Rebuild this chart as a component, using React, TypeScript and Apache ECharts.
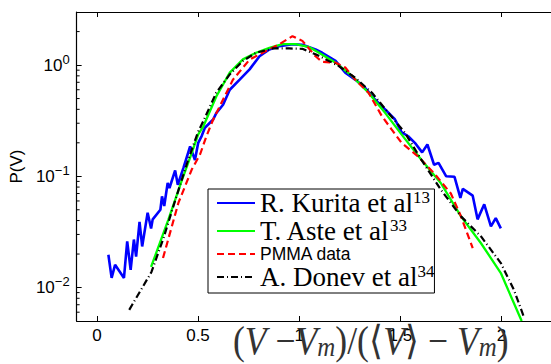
import React, { useEffect, useRef } from "react";
import * as echarts from "echarts";

// ---- data ----
const KURITA_X = [0.057, 0.073, 0.09, 0.134, 0.15, 0.167, 0.183, 0.194, 0.211, 0.224, 0.251, 0.268, 0.276, 0.314, 0.322, 0.333, 0.35, 0.359, 0.387, 0.4, 0.428, 0.461, 0.485, 0.501, 0.518, 0.534, 0.575, 0.591, 0.624, 0.657, 0.706, 0.755, 0.804, 0.853, 0.902, 0.967, 1.016, 1.081, 1.114, 1.18, 1.228, 1.277, 1.326, 1.375, 1.425, 1.474, 1.506, 1.539, 1.572, 1.608, 1.634, 1.667, 1.689, 1.727, 1.768, 1.797, 1.809, 1.858, 1.882, 1.915, 1.948, 1.972, 1.997];
const KURITA_Y = [0.0197, 0.0122, 0.016, 0.0122, 0.026, 0.0144, 0.027, 0.019, 0.039, 0.0234, 0.047, 0.034, 0.041, 0.05, 0.066, 0.054, 0.087, 0.0785, 0.113, 0.084, 0.119, 0.186, 0.14, 0.2, 0.23, 0.273, 0.324, 0.372, 0.44, 0.6, 0.74, 0.915, 1.2, 1.38, 1.48, 1.54, 1.52, 1.38, 1.29, 1.09, 0.855, 0.74, 0.625, 0.49, 0.4, 0.324, 0.25, 0.229, 0.2, 0.164, 0.193, 0.127, 0.132, 0.1, 0.099, 0.064, 0.077, 0.067, 0.041, 0.056, 0.0355, 0.042, 0.034];

const ASTE_X = [0.268, 0.354, 0.42, 0.469, 0.501, 0.526, 0.591, 0.657, 0.722, 0.787, 0.853, 0.918, 0.983, 1.049, 1.098, 1.18, 1.261, 1.343, 1.425, 1.506, 1.604, 1.7, 1.8, 1.899, 1.997, 2.1];
const ASTE_Y = [0.0153, 0.041, 0.092, 0.162, 0.238, 0.28, 0.525, 0.855, 1.125, 1.29, 1.43, 1.54, 1.54, 1.45, 1.29, 1.05, 0.8, 0.564, 0.372, 0.238, 0.141, 0.087, 0.0436, 0.025, 0.0135, 0.005];

const PMMA_X = [0.327, 0.403, 0.469, 0.51, 0.542, 0.575, 0.624, 0.673, 0.755, 0.836, 0.902, 0.967, 1.016, 1.081, 1.114, 1.18, 1.228, 1.277, 1.343, 1.408, 1.457, 1.506, 1.588, 1.67, 1.75, 1.8, 1.858];
const PMMA_Y = [0.0184, 0.0576, 0.115, 0.157, 0.23, 0.324, 0.49, 0.74, 1.12, 1.34, 1.54, 1.82, 1.65, 1.2, 1.07, 1.05, 0.95, 0.74, 0.564, 0.35, 0.264, 0.2, 0.151, 0.105, 0.07, 0.0436, 0.0226];

const DONEV_X = [0.16, 0.27, 0.33, 0.39, 0.45, 0.5, 0.53, 0.59, 0.657, 0.722, 0.787, 0.869, 0.951, 1.016, 1.081, 1.114, 1.196, 1.277, 1.36, 1.441, 1.523, 1.604, 1.7, 1.8, 1.899, 1.997, 2.062, 2.11];
const DONEV_Y = [0.0063, 0.0138, 0.028, 0.063, 0.138, 0.25, 0.324, 0.564, 0.824, 1.09, 1.29, 1.41, 1.41, 1.4, 1.25, 1.17, 0.98, 0.77, 0.564, 0.372, 0.246, 0.141, 0.076, 0.0436, 0.0288, 0.0166, 0.0095, 0.0055];

const SERIES_NAMES = ["R. Kurita et al", "T. Aste et al", "PMMA data", "A. Donev et al"];
const SERIES_REFS = ["13", "33", "", "34"];

const X_TICKS = [0, 0.5, 1, 1.5, 2];
const Y_MINOR_TICKS = [0.006, 0.007, 0.008, 0.009, 0.02, 0.03, 0.04, 0.05, 0.06, 0.07, 0.08, 0.09, 0.2, 0.3, 0.4, 0.5, 0.6, 0.7, 0.8, 0.9, 2];

const X_MIN = -0.1;
const X_MAX = 2.245;
const Y_MIN = 0.005;
const Y_MAX = 3;

const zip = (xs: number[], ys: number[]) => xs.map((x, i) => [x, ys[i]]);

export default function App() {
  const ref = useRef<HTMLDivElement>(null);
  useEffect(() => {
    if (!ref.current) return;
    const chart = echarts.init(ref.current, undefined, { renderer: "svg" });
    const sans = "'Liberation Sans', Arial, Helvetica, sans-serif";
    const serif = "'Liberation Serif', 'Times New Roman', serif";

    const lineSeries = (name: string, data: number[][], color: string, width: number, type: any) => ({
      type: "line",
      name,
      data,
      symbol: "none",
      showSymbol: false,
      xAxisIndex: 0,
      yAxisIndex: 0,
      lineStyle: { color, width, type },
      itemStyle: { color },
      emphasis: { disabled: true },
      z: 3,
    });

    chart.setOption({
      animation: false,
      backgroundColor: "#fff",
      grid: { left: 73, right: 0, top: 12, bottom: 43, containLabel: false },
      xAxis: [
        {
          type: "value",
          min: X_MIN,
          max: X_MAX,
          axisLine: { show: true, onZero: false, lineStyle: { color: "#000", width: 1.2 } },
          axisTick: { show: true, inside: true, length: 5, customValues: X_TICKS, lineStyle: { color: "#000" } },
          axisLabel: {
            customValues: X_TICKS,
            color: "#000",
            fontFamily: sans,
            fontSize: 17,
            margin: 6,
            formatter: (v: number) => String(v),
          },
          splitLine: { show: false },
        },
        {
          type: "value",
          position: "top",
          min: X_MIN,
          max: X_MAX,
          axisLine: { show: true, onZero: false, lineStyle: { color: "#000", width: 1.2 } },
          axisTick: { show: true, inside: true, length: 5, customValues: X_TICKS, lineStyle: { color: "#000" } },
          axisLabel: { show: false },
          splitLine: { show: false },
        },
      ],
      yAxis: [
        {
          type: "log",
          logBase: 10,
          min: Y_MIN,
          max: Y_MAX,
          name: "P(V)",
          nameLocation: "middle",
          nameRotate: 90,
          nameGap: 26,
          nameTextStyle: { color: "#000", fontFamily: sans, fontSize: 17 },
          axisLine: { show: true, onZero: false, lineStyle: { color: "#000", width: 1.2 } },
          axisTick: { show: true, inside: true, length: 5, lineStyle: { color: "#000" } },
          axisLabel: {
            color: "#000",
            margin: 7,
            showMinLabel: false,
            showMaxLabel: false,
            formatter: (v: number) => {
              const e = Math.log10(v);
              if (Math.abs(e - Math.round(e)) > 1e-6) return "";
              const r = Math.round(e);
              return "{a|10}{b|" + (r < 0 ? "\u2212" + Math.abs(r) : String(r)) + "}";
            },
            rich: {
              a: { fontFamily: sans, fontSize: 17, color: "#000", lineHeight: 20 },
              b: { fontFamily: sans, fontSize: 13, color: "#000", lineHeight: 4, padding: [0, 0, 12, 0] },
            },
          },
          splitLine: { show: false },
        },
      ],
      legend: {
        orient: "vertical",
        left: 208,
        top: 189,
        padding: [0, 0, 2, 8],
        itemGap: 0,
        itemWidth: 38,
        itemHeight: 14,
        backgroundColor: "#fff",
        borderColor: "#000",
        borderWidth: 1,
        borderRadius: 0,
        data: SERIES_NAMES,
        selectedMode: false,
        itemStyle: { opacity: 0 },
        formatter: (name: string) => {
          const i = SERIES_NAMES.indexOf(name);
          if (name === "PMMA data") return "{p|" + name + "}";
          return "{t|" + name + "}{s|" + SERIES_REFS[i] + "}";
        },
        textStyle: {
          width: 168,
          overflow: "none",
          rich: {
            t: { fontFamily: serif, fontSize: 27, lineHeight: 20, color: "#000" },
            s: { fontFamily: serif, fontSize: 17, lineHeight: 4, padding: [0, 0, 11, 0], color: "#000" },
            p: { fontFamily: sans, fontSize: 17.5, lineHeight: 20, color: "#000" },
          },
        },
      },
      graphic: [
        {
          type: "text",
          x: 233,
          y: 360,
          scaleX: 0.89,
          style: {
            text: "{n|(}{i|V}{n| \u2212}{i|V}{m|m}{n|)/(\u27e8}{i|V}{n|\u27e9 \u2212 }{i|V}{m|m}{n|)}",
            textVerticalAlign: "bottom",
            rich: {
              n: { fontFamily: serif, fontSize: 40, fill: "#333", lineHeight: 40, verticalAlign: "bottom" },
              i: { fontFamily: serif, fontStyle: "italic", fontSize: 40, fill: "#333", lineHeight: 40, verticalAlign: "bottom" },
              m: { fontFamily: serif, fontStyle: "italic", fontSize: 28, fill: "#333", lineHeight: 34, verticalAlign: "bottom" },
            },
          },
          z: 10,
        },
      ],
      series: [
        lineSeries(SERIES_NAMES[0], zip(KURITA_X, KURITA_Y), "#0000ff", 2.6, "solid"),
        lineSeries(SERIES_NAMES[1], zip(ASTE_X, ASTE_Y), "#00ff00", 2.3, "solid"),
        lineSeries(SERIES_NAMES[2], zip(PMMA_X, PMMA_Y), "#ff0000", 2.2, [7, 4]),
        lineSeries(SERIES_NAMES[3], zip(DONEV_X, DONEV_Y), "#000000", 2.2, [7, 3, 1, 3]),
        {
          type: "custom",
          name: "minor-ticks",
          xAxisIndex: 0,
          yAxisIndex: 0,
          silent: true,
          clip: false,
          data: Y_MINOR_TICKS.map((v) => [X_MIN, v]),
          renderItem: (_p: any, api: any) => {
            const pt = api.coord([api.value(0), api.value(1)]);
            return {
              type: "line",
              shape: { x1: pt[0], y1: pt[1], x2: pt[0] + 3, y2: pt[1] },
              style: { stroke: "#000", lineWidth: 1 },
            };
          },
          z: 2,
        },
      ],
    });
    return () => chart.dispose();
  }, []);
  return <div ref={ref} style={{ position: "absolute", left: 0, top: 0, width: 551, height: 364 }} />;
}
